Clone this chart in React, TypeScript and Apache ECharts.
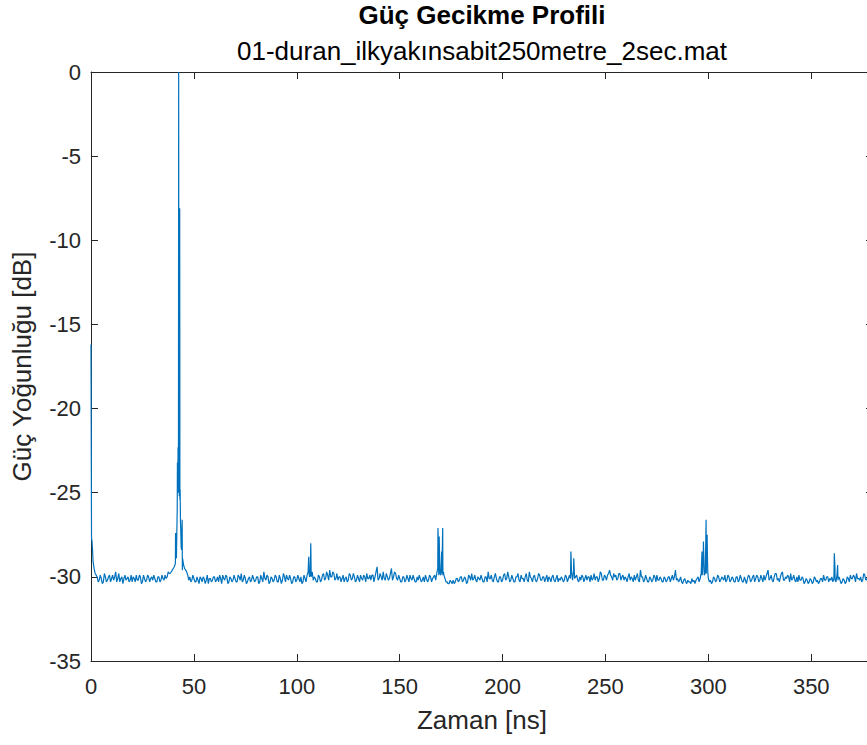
import React, { useEffect, useRef } from "react";
import * as echarts from "echarts";

// Noise floor of the power delay profile, sampled at t = i ns (i = 0 … 379)
const floorDb: number[] = [
  -16.2, -29.1, -29.8, -30.0, -30.2, -30.1, -30.3, -30.0, -30.2, -29.9,
  -30.1, -30.2, -29.7, -30.1, -30.3, -30.0, -30.1, -30.2, -30.0, -30.2,
  -30.3, -30.1, -29.9, -30.2, -30.0, -30.3, -30.1, -30.2, -30.0, -30.1,
  -30.2, -30.1, -30.3, -30.0, -30.2, -30.1, -29.9, -30.0, -29.8, -29.7,
  -29.5, -29.2, -26.0, -23.5, -28.4, -29.3, -29.6, -29.9, -30.0, -30.2,
  -30.1, -30.3, -30.2, -30.0, -30.3, -30.1, -30.2, -30.4, -30.1, -30.2,
  -30.0, -30.2, -30.3, -30.1, -29.9, -30.2, -30.0, -30.3, -30.1, -30.2,
  -30.1, -30.3, -30.0, -29.8, -30.2, -30.1, -30.3, -30.0, -30.2, -30.1,
  -30.2, -30.0, -30.3, -30.1, -29.7, -30.2, -30.0, -30.3, -30.1, -30.2,
  -30.0, -30.3, -30.1, -30.2, -30.0, -29.9, -30.2, -30.1, -30.3, -30.0,
  -30.2, -30.1, -30.0, -30.3, -30.1, -29.9, -29.8, -30.0, -30.2, -30.1,
  -30.3, -30.0, -30.2, -29.8, -30.1, -29.9, -29.6, -30.0, -29.8, -30.1,
  -30.2, -30.0, -30.1, -30.3, -30.0, -30.2, -29.9, -30.1, -30.0, -30.2,
  -30.1, -29.9, -30.2, -30.0, -29.8, -30.1, -30.2, -29.9, -30.0, -29.4,
  -30.1, -30.0, -29.7, -30.2, -30.0, -30.1, -29.5, -30.0, -29.8, -30.2,
  -30.1, -30.3, -30.0, -30.2, -30.1, -29.9, -30.2, -30.1, -30.3, -30.2,
  -30.1, -30.2, -30.3, -30.1, -30.2, -30.0, -30.1, -29.9, -29.8, -29.9,
  -29.9, -29.9, -30.1, -30.3, -30.4, -30.3, -30.2, -30.3, -30.1, -30.2,
  -30.0, -30.2, -30.1, -30.3, -30.0, -29.8, -30.1, -30.2, -30.0, -30.2,
  -30.1, -30.3, -30.0, -29.7, -30.1, -30.2, -30.0, -30.1, -30.3, -30.0,
  -30.2, -29.8, -30.1, -30.0, -30.2, -30.1, -30.3, -30.0, -30.2, -29.9,
  -30.1, -30.0, -30.2, -29.7, -30.1, -30.0, -30.2, -30.1, -29.9, -30.2,
  -30.0, -30.1, -30.3, -30.1, -30.0, -30.2, -30.1, -30.3, -30.2, -30.1,
  -30.2, -30.0, -30.1, -30.1, -30.2, -30.1, -29.9, -30.3, -30.2, -30.0,
  -30.1, -30.2, -30.0, -29.9, -30.1, -30.2, -30.0, -30.1, -29.8, -30.2,
  -30.0, -29.9, -29.6, -30.0, -29.8, -29.9, -30.1, -29.8, -30.0, -30.2,
  -30.1, -30.0, -30.2, -30.1, -29.9, -30.0, -30.2, -29.6, -30.0, -30.2,
  -30.1, -30.3, -30.1, -30.2, -30.0, -29.9, -30.2, -30.1, -30.3, -30.1,
  -30.2, -30.0, -30.1, -30.2, -29.6, -30.1, -30.2, -30.3, -30.2, -30.3,
  -30.2, -30.3, -30.1, -30.2, -30.2, -30.0, -30.1, -29.9, -29.9, -29.8,
  -30.1, -30.2, -30.3, -30.1, -30.2, -30.0, -30.2, -30.1, -29.9, -30.2,
  -30.0, -30.2, -30.1, -30.3, -30.0, -30.2, -30.1, -30.3, -30.2, -30.1,
  -30.0, -30.2, -29.9, -30.1, -30.0, -30.2, -30.1, -29.9, -30.0, -29.6,
  -30.1, -30.2, -30.0, -29.8, -30.1, -30.0, -29.7, -30.2, -30.1, -30.0,
  -29.8, -30.1, -30.2, -30.0, -29.9, -30.2, -30.1, -30.3, -30.2, -30.3,
  -30.2, -30.3, -30.1, -30.2, -30.3, -30.1, -29.9, -30.2, -30.0, -30.1,
  -30.0, -30.1, -30.3, -30.2, -30.2, -30.3, -30.2, -30.3, -30.1, -29.9,
  -30.1, -30.0, -29.8, -30.1, -30.0, -30.2, -29.9, -30.1, -30.0, -30.1,
];

// Noise floor at the half-ns points, t = i + 0.5 ns
const floorHalfDb: number[] = [
  -27.9, -29.5, -29.9, -30.3, -29.9, -30.4, -29.8, -30.3, -30.0, -30.3,
  -29.9, -30.0, -30.3, -29.8, -30.1, -30.4, -29.9, -30.1, -30.3, -29.9,
  -30.0, -30.3, -30.2, -29.9, -30.4, -29.9, -30.3, -29.9, -30.3, -30.0,
  -29.9, -30.3, -30.0, -30.3, -29.9, -30.2, -30.1, -29.7, -29.8, -29.6,
  -29.4, -28.9, -24.6, -26.8, -28.9, -29.5, -29.7, -30.2, -30.3, -29.9,
  -30.3, -30.0, -30.4, -30.1, -30.0, -30.4, -29.9, -30.1, -30.3, -30.0,
  -30.3, -30.0, -29.9, -30.4, -30.1, -29.9, -30.4, -30.0, -30.3, -29.9,
  -30.3, -29.9, -30.2, -30.3, -29.9, -30.4, -30.1, -30.3, -29.9, -30.3,
  -30.0, -30.4, -29.9, -30.3, -30.1, -29.9, -30.4, -30.0, -30.3, -29.9,
  -30.3, -29.9, -30.4, -29.8, -30.3, -30.1, -29.9, -30.4, -30.0, -30.3,
  -29.9, -30.3, -30.4, -29.9, -30.3, -29.7, -29.9, -29.7, -30.0, -30.3,
  -29.9, -30.3, -29.9, -30.2, -29.7, -30.2, -30.0, -29.7, -30.2, -29.8,
  -30.0, -30.3, -29.9, -30.1, -30.3, -29.8, -30.2, -29.8, -30.3, -29.9,
  -30.3, -30.1, -29.9, -30.3, -30.1, -29.9, -29.9, -30.3, -29.7, -30.2,
  -29.8, -30.2, -30.1, -29.8, -30.2, -29.8, -30.2, -29.7, -30.1, -29.9,
  -30.3, -30.0, -30.3, -29.9, -30.3, -30.1, -29.9, -30.3, -30.0, -29.9,
  -30.3, -30.0, -29.9, -30.3, -29.9, -30.3, -30.0, -30.2, -29.5, -29.6,
  -29.8, -29.9, -30.3, -30.4, -30.2, -30.4, -30.4, -30.1, -30.3, -30.0,
  -30.3, -30.0, -30.4, -29.9, -30.2, -30.2, -29.9, -30.3, -30.1, -29.9,
  -30.3, -30.0, -30.3, -30.1, -29.9, -30.3, -29.8, -30.3, -30.0, -30.3,
  -29.9, -30.2, -29.7, -30.3, -29.9, -30.3, -30.0, -29.8, -30.3, -30.1,
  -30.3, -29.8, -30.3, -30.0, -30.3, -29.9, -30.3, -29.8, -30.2, -30.0,
  -30.3, -29.9, -30.0, -30.3, -29.9, -30.3, -29.9, -30.1, -30.0, -30.3,
  -29.9, -30.3, -29.9, -29.7, -29.6, -30.0, -30.2, -30.0, -29.9, -30.3,
  -29.9, -30.0, -30.3, -30.2, -29.8, -30.0, -30.3, -29.7, -30.2, -29.9,
  -30.2, -29.8, -29.9, -30.2, -30.0, -30.2, -29.8, -30.2, -29.9, -30.0,
  -30.3, -29.8, -30.0, -30.3, -30.2, -29.8, -30.3, -30.0, -30.3, -29.9,
  -30.3, -30.0, -30.3, -29.9, -30.3, -30.2, -30.0, -30.3, -30.0, -30.3,
  -30.0, -30.3, -29.9, -30.0, -30.2, -30.3, -30.0, -30.4, -30.1, -30.4,
  -30.3, -30.4, -30.3, -30.4, -30.1, -30.3, -29.8, -28.8, -29.7, -28.4,
  -30.3, -30.4, -30.0, -30.3, -29.9, -30.3, -30.0, -30.2, -30.3, -29.9,
  -30.3, -30.0, -30.3, -30.0, -30.3, -29.9, -30.3, -30.0, -30.4, -29.9,
  -30.3, -30.0, -30.3, -29.9, -30.3, -29.9, -30.3, -30.2, -29.8, -30.2,
  -29.9, -30.3, -29.8, -30.2, -30.3, -29.8, -30.2, -30.0, -29.9, -30.3,
  -30.2, -29.9, -30.3, -30.3, -30.2, -30.0, -30.4, -30.1, -30.4, -30.1,
  -30.4, -30.0, -30.3, -30.4, -30.1, -30.3, -30.2, -30.0, -30.3, -30.2,
  -30.3, -29.4, -29.9, -30.0, -30.4, -30.1, -30.4, -30.0, -30.3, -30.1,
  -29.9, -30.3, -30.1, -30.2, -30.3, -29.8, -30.2, -30.3, -29.9, -30.3,
];

// Multipath components between the floor samples: delay [ns]
const pathDelayNs: number[] = [
  0.25, 0.75,
  41.1, 41.3, 41.7, 41.9, 42.0, 42.1, 42.2, 42.3, 42.35, 42.4, 42.45,
  42.6, 42.7, 42.8, 42.9, 42.95, 43.1, 43.2, 43.3, 43.6, 43.8, 44.3, 44.4,
  105.8, 106.2, 106.8,
  168.6, 168.8, 169.2, 169.6, 170.4, 170.9, 171.3,
  233.2, 233.6, 234.6,
  296.9, 297.2, 297.6, 298.4, 298.9, 299.2, 299.4, 299.7,
  361.2, 361.6, 362.8, 363.1,
];
// … and their power [dB]
const pathPowerDb: number[] = [
  -27.7, -28.4,
  -27.4, -28.6, -27.4, -26.0, -23.2, -24.2, -24.9, -22.3, -24.6, -23.0, -25.0,
  0, -24.0, -23.6, -25.2, -24.1, -8.1, -25.4, -24.8, -27.1, -28.2, -26.6, -29.6,
  -28.8, -30.0, -28.0,
  -27.1, -28.0, -27.6, -29.8, -28.5, -27.1, -29.7,
  -28.5, -29.8, -28.9,
  -28.5, -29.6, -27.9, -29.8, -26.6, -28.3, -27.5, -29.7,
  -28.6, -30.2, -29.3, -30.1,
];

const xTicks = { min: 0, max: 380, interval: 50 };
const yTicks = { min: -35, max: 0, interval: 5 };

const titleText = "Güç Gecikme Profili";
const subtitleText = "01-duran_ilkyakınsabit250metre_2sec.mat";
const xName = "Zaman [ns]";
const yName = "Güç Yoğunluğu [dB]";

const FONT = "'Liberation Sans', Arial, Helvetica, sans-serif";
const INK = "#262626";
const LINE = "#0072BD";

function buildProfile(): [number, number][] {
  const pts: [number, number][] = [];
  floorDb.forEach((v, i) => pts.push([i, v]));
  floorHalfDb.forEach((v, i) => pts.push([i + 0.5, v]));
  pathDelayNs.forEach((t, i) => pts.push([t, pathPowerDb[i]]));
  pts.sort((a, b) => a[0] - b[0]);
  return pts;
}

const CHART_W = 880;
const CHART_H = 745;
const GRID = { left: 91, top: 72, right: 7, bottom: 84 };

export default function App() {
  const ref = useRef<HTMLDivElement>(null);

  useEffect(() => {
    if (!ref.current) return;
    const chart = echarts.init(ref.current, undefined, { renderer: "svg" });

    const axisLine = { show: true, onZero: false, lineStyle: { color: INK, width: 1 } };
    const tick = { show: true, inside: true, length: 7, lineStyle: { color: INK, width: 1 } };
    const label = { color: INK, fontSize: 22, fontFamily: FONT };
    const nameStyle = { color: INK, fontSize: 26, fontFamily: FONT };
    const plotCx = GRID.left + (CHART_W - GRID.left - GRID.right) / 2;

    chart.setOption({
      animation: false,
      backgroundColor: "#ffffff",
      grid: { ...GRID, containLabel: false },
      graphic: [
        {
          type: "text",
          x: plotCx,
          y: 15,
          style: {
            text: titleText,
            textAlign: "center",
            textVerticalAlign: "middle",
            fontFamily: FONT,
            fontWeight: "bold",
            fontSize: 26,
            fill: "#000000",
          },
        },
        {
          type: "text",
          x: plotCx,
          y: 51,
          style: {
            text: subtitleText,
            textAlign: "center",
            textVerticalAlign: "middle",
            fontFamily: FONT,
            fontSize: 26,
            fill: "#000000",
          },
        },
      ],
      xAxis: [
        {
          type: "value",
          position: "bottom",
          ...xTicks,
          axisLine,
          axisTick: tick,
          splitLine: { show: false },
          axisLabel: { ...label, margin: 14, showMaxLabel: false },
          name: xName,
          nameLocation: "middle",
          nameGap: 46,
          nameTextStyle: nameStyle,
        },
        {
          type: "value",
          position: "top",
          ...xTicks,
          axisLine,
          axisTick: tick,
          splitLine: { show: false },
          axisLabel: { show: false },
        },
      ],
      yAxis: [
        {
          type: "value",
          position: "left",
          ...yTicks,
          axisLine,
          axisTick: tick,
          splitLine: { show: false },
          axisLabel: { ...label, margin: 10 },
          name: yName,
          nameLocation: "middle",
          nameGap: 56,
          nameTextStyle: nameStyle,
        },
        {
          type: "value",
          position: "right",
          ...yTicks,
          axisLine,
          axisTick: tick,
          splitLine: { show: false },
          axisLabel: { show: false },
        },
      ],
      series: [
        {
          type: "line",
          xAxisIndex: 0,
          yAxisIndex: 0,
          data: buildProfile(),
          showSymbol: false,
          symbol: "none",
          lineStyle: { color: LINE, width: 1.2 },
          clip: true,
        },
      ],
    });

    return () => chart.dispose();
  }, []);

  return (
    <div
      ref={ref}
      style={{ position: "fixed", left: 0, top: 0, width: CHART_W, height: CHART_H }}
    />
  );
}
